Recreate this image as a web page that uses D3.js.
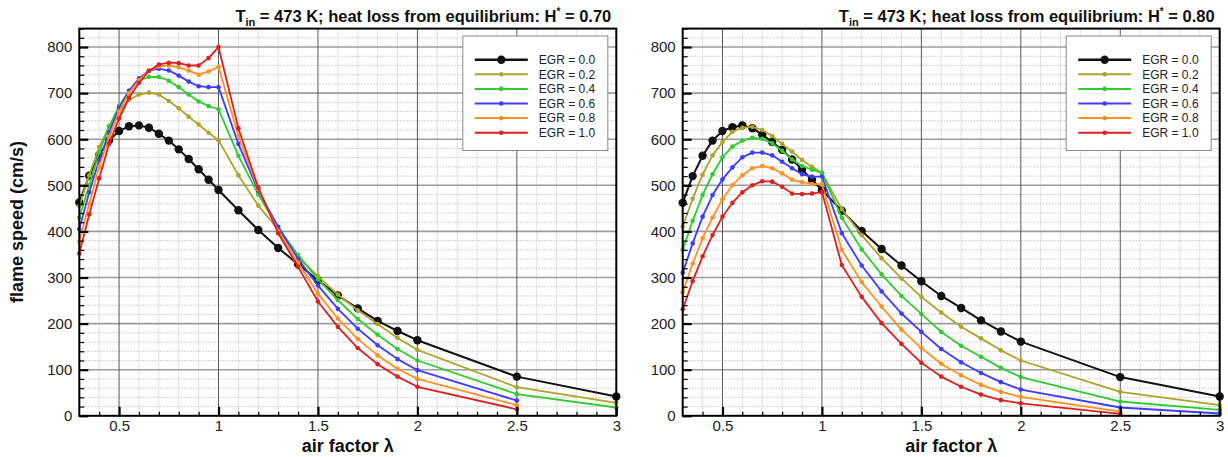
<!DOCTYPE html>
<html>
<head>
<meta charset="utf-8">
<script src="https://cdn.jsdelivr.net/npm/d3@7"></script>
<style>
  html, body { margin: 0; padding: 0; background: #fff; }
  svg { display: block; font-family: "Liberation Sans", Arial, Helvetica, sans-serif; }
</style>
</head>
<body>
<svg id="chart" width="1228" height="457"></svg>
<script>
// ---------------- DATA ----------------
const lambda = [0.3,0.35,0.4,0.45,0.5,0.55,0.6,0.65,0.7,0.75,0.8,0.85,0.9,0.95,1.0,
                1.1,1.2,1.3,1.4,1.5,1.6,1.7,1.8,1.9,2.0,2.5,3.0];
const egrLabels = ["EGR = 0.0","EGR = 0.2","EGR = 0.4","EGR = 0.6","EGR = 0.8","EGR = 1.0"];
const egrColors = ["#111111","#aca52a","#2fcc2f","#3d3dff","#ff9122","#dc1f1f"];

// Panel 1: H* = 0.70
const h070_egr00 = [463,521,566,598,618,628,630,625,612,597,578,557,535,512,490, 446,403,364,329,294,261,233,206,184,164, 85,42];
const h070_egr02 = [455,522,583,628,660,685,697,701,697,683,667,649,632,614,598, 522,456,404,344,303,263,229,199,169,143, 62,28];
const h070_egr04 = [430,500,572,628,672,705,727,735,735,727,713,697,682,672,665, 564,480,408,349,296,251,210,176,145,120, 47,18];
const h070_egr06 = [405,485,555,615,668,705,732,749,753,749,738,725,715,713,713, 590,488,410,340,283,232,189,153,123,99, 33,null];
const h070_egr08 = [378,460,540,605,660,700,728,749,758,760,756,749,740,747,757, 607,492,400,332,265,211,167,131,102,80, 23,null];
const h070_egr10 = [352,437,515,590,645,690,722,748,762,766,765,760,760,776,800, 624,495,396,323,248,193,147,112,85,63, 14,null];

// Panel 2: H* = 0.80
const h080_egr00 = [462,520,564,597,618,626,630,624,610,594,577,556,534,512,490, 445,401,362,326,292,260,234,207,183,161, 84,42];
const h080_egr02 = [410,471,523,565,594,616,625,627,620,607,590,573,555,540,527, 448,392,342,298,258,224,193,168,142,120, 52,23];
const h080_egr04 = [360,423,479,524,561,584,597,603,601,591,575,556,542,534,527, 430,361,307,260,221,182,152,128,104,84, 31,13];
const h080_egr06 = [310,374,432,479,513,539,561,571,571,565,551,537,524,519,519, 396,326,270,222,182,145,116,93,73,57, 18,5];
const h080_egr08 = [268,330,385,430,470,500,522,537,542,537,526,512,507,503,502, 360,290,237,187,147,113,88,67,52,41, 9,null];
const h080_egr10 = [231,292,346,392,432,462,485,500,509,508,497,482,481,482,486, 327,258,201,156,115,85,63,46,34,27, 4,null];

const xTickValues = [0.5,1,1.5,2,2.5,3];
const xTickLabels = ["0.5","1","1.5","2","2.5","3"];
const yTickValues = [0,100,200,300,400,500,600,700,800];
const yTickLabels = ["0","100","200","300","400","500","600","700","800"];

const titles = ["0.70","0.80"];
const xTitle = "air factor \u03bb";
const yTitle = "flame speed (cm/s)";

// ---------------- DRAW ----------------
const svg = d3.select("#chart");
const yTop = 28.6, yBot = 415.8;
const panels = [
  {x0: 79.3, x1: 616.3, series: [h070_egr00,h070_egr02,h070_egr04,h070_egr06,h070_egr08,h070_egr10], hs: titles[0], ytitle: true},
  {x0: 682.7, x1: 1219.7, series: [h080_egr00,h080_egr02,h080_egr04,h080_egr06,h080_egr08,h080_egr10], hs: titles[1], ytitle: false}
];

panels.forEach((p, pi) => {
  const g = svg.append("g");
  const x = d3.scaleLinear().domain([0.3, 3]).range([p.x0, p.x1]);
  const y = d3.scaleLinear().domain([0, 840]).range([yBot, yTop]);

  // minor grid
  const xMinor = d3.range(4, 30).map(d => d / 10).filter(d => Math.abs(d * 2 - Math.round(d * 2)) > 1e-6);
  const yMinor = d3.range(20, 841, 20).filter(d => d % 100 !== 0);
  g.append("g").selectAll("line").data(xMinor).join("line")
    .attr("x1", d => x(d)).attr("x2", d => x(d)).attr("y1", yTop).attr("y2", yBot)
    .attr("stroke", "#e2e2e2").attr("stroke-width", 1);
  g.append("g").selectAll("line").data(yMinor).join("line")
    .attr("x1", p.x0).attr("x2", p.x1).attr("y1", d => y(d)).attr("y2", d => y(d))
    .attr("stroke", "#c4c4c4").attr("stroke-width", 1).attr("stroke-dasharray", "1.5,1.5");
  // major grid
  g.append("g").selectAll("line").data(yTickValues.filter(d => d > 0)).join("line")
    .attr("x1", p.x0).attr("x2", p.x1).attr("y1", d => y(d)).attr("y2", d => y(d))
    .attr("stroke", "#9c9c9c").attr("stroke-width", 1.6);
  g.append("g").selectAll("line").data(xTickValues.filter(d => d < 3)).join("line")
    .attr("x1", d => x(d)).attr("x2", d => x(d)).attr("y1", yTop).attr("y2", yBot)
    .attr("stroke", "#5a5a5a").attr("stroke-width", 1);

  // series
  p.series.forEach((vals, si) => {
    const pts = lambda.map((l, i) => ({l, v: vals[i]})).filter(d => d.v !== null);
    const line = d3.line().x(d => x(d.l)).y(d => y(d.v));
    g.append("path").datum(pts).attr("d", line)
      .attr("fill", "none").attr("stroke", egrColors[si])
      .attr("stroke-width", si === 0 ? 2 : 1.8).attr("stroke-linejoin", "round");
    g.append("g").selectAll("circle").data(pts).join("circle")
      .attr("cx", d => x(d.l)).attr("cy", d => y(d.v))
      .attr("r", si === 0 ? 4.2 : 2.3).attr("fill", egrColors[si]);
  });

  // axes
  const fmtX = d => xTickLabels[xTickValues.indexOf(d)];
  const fmtY = d => yTickLabels[yTickValues.indexOf(d)];
  const ax = g.append("g").attr("transform", `translate(0,${yBot})`)
    .call(d3.axisBottom(x).tickValues(xTickValues).tickFormat(fmtX).tickSize(-9).tickPadding(5));
  const axm = g.append("g").attr("transform", `translate(0,${yBot})`)
    .call(d3.axisBottom(x).tickValues(xMinor).tickFormat("").tickSize(-4));
  const ay = g.append("g").attr("transform", `translate(${p.x0},0)`)
    .call(d3.axisLeft(y).tickValues(yTickValues).tickFormat(fmtY).tickSize(-9).tickPadding(7));
  const aym = g.append("g").attr("transform", `translate(${p.x0},0)`)
    .call(d3.axisLeft(y).tickValues(yMinor).tickFormat("").tickSize(-5));
  [ax, axm, ay, aym].forEach(a => {
    a.select(".domain").remove();
    a.selectAll("line").attr("stroke", "#000");
    a.selectAll("text").attr("font-size", 15).attr("fill", "#222")
      .attr("font-family", "'Liberation Sans', Arial, sans-serif");
  });
  ax.selectAll("line").attr("stroke-width", 2.2);
  ay.selectAll("line").attr("stroke-width", 2.2);
  axm.selectAll("line").attr("stroke-width", 1.2);
  aym.selectAll("line").attr("stroke-width", 1.2);

  // frame
  g.append("rect").attr("x", p.x0).attr("y", yTop).attr("width", p.x1 - p.x0).attr("height", yBot - yTop)
    .attr("fill", "none").attr("stroke", "#000").attr("stroke-width", 2);

  // title
  const t = g.append("text").attr("x", p.x1 - 5).attr("y", 21.5).attr("text-anchor", "end")
    .attr("font-size", 16.5).attr("font-weight", "bold").attr("fill", "#111");
  t.append("tspan").text("T");
  t.append("tspan").text("in").attr("font-size", 11).attr("dy", 4);
  t.append("tspan").text(" = 473 K; heat loss from equilibrium: H").attr("dy", -4);
  t.append("tspan").text("*").attr("font-size", 10).attr("dy", -7);
  t.append("tspan").text(" = " + p.hs).attr("dy", 7);

  // x title
  g.append("text").attr("x", (p.x0 + p.x1) / 2).attr("y", 452).attr("text-anchor", "middle")
    .attr("font-size", 18).attr("font-weight", "bold").attr("fill", "#111").text(xTitle);
  if (p.ytitle) {
    g.append("text").attr("transform", `translate(23,222) rotate(-90)`).attr("text-anchor", "middle")
      .attr("font-size", 18).attr("font-weight", "bold").attr("fill", "#111").text(yTitle);
  }

  // legend
  const lx = p.x0 + 383.5, ly = 36;
  const lg = g.append("g");
  lg.append("rect").attr("x", lx).attr("y", ly).attr("width", 145).attr("height", 114.5)
    .attr("fill", "#fff").attr("stroke", "#8a8a8a").attr("stroke-width", 1);
  egrLabels.forEach((lab, i) => {
    const ry = 59.7 + i * 14.6;
    lg.append("line").attr("x1", lx + 12).attr("x2", lx + 65).attr("y1", ry).attr("y2", ry)
      .attr("stroke", egrColors[i]).attr("stroke-width", i === 0 ? 2.4 : 2);
    lg.append("circle").attr("cx", lx + 38.5).attr("cy", ry).attr("r", i === 0 ? 4.2 : 2.3).attr("fill", egrColors[i]);
    lg.append("text").attr("x", lx + 76).attr("y", ry + 4.3).attr("font-size", 12).attr("fill", "#222").text(lab);
  });
});
</script>
</body>
</html>
